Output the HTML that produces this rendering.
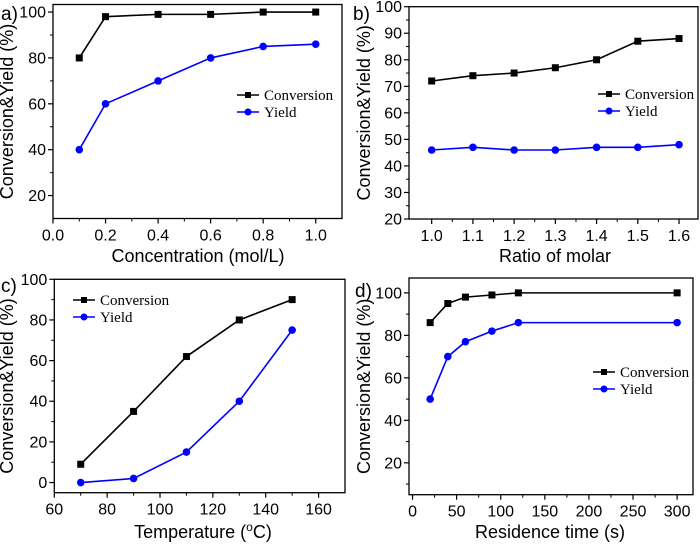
<!DOCTYPE html>
<html><head><meta charset="utf-8"><style>
body{margin:0;background:#fff}
svg{display:block}
text{font-family:"Liberation Sans",Arial,sans-serif;fill:#000}
.leg{font-family:"Liberation Serif",serif;font-size:15px}
</style></head><body>
<svg id="chart" width="700" height="544" viewBox="0 0 700 544" xmlns="http://www.w3.org/2000/svg"></svg>
<script>
// Panel a
const aX=[0.1,0.2,0.4,0.6,0.8,1.0];
const aConv=[80,98,99,99,100,100];
const aYield=[40,60,70,80,85,86];
const aXTicks=["0.0","0.2","0.4","0.6","0.8","1.0"];
const aYTicks=["20","40","60","80","100"];
// Panel b
const bX=[1.0,1.1,1.2,1.3,1.4,1.5,1.6];
const bConv=[72,74,75,77,80,87,88];
const bYield=[46,47,46,46,47,47,48];
const bXTicks=["1.0","1.1","1.2","1.3","1.4","1.5","1.6"];
const bYTicks=["20","30","40","50","60","70","80","90","100"];
// Panel c
const cX=[70,90,110,130,150];
const cConv=[9,35,62,80,90];
const cYield=[0,2,15,40,75];
const cXTicks=["60","80","100","120","140","160"];
const cYTicks=["0","20","40","60","80","100"];
// Panel d
const dX=[20,40,60,90,120,300];
const dConv=[86,95,98,99,100,100];
const dYield=[50,70,77,82,86,86];
const dXTicks=["0","50","100","150","200","250","300"];
const dYTicks=["20","40","60","80","100"];

const NS="http://www.w3.org/2000/svg";
const svg=document.getElementById('chart');
function mk(tag,attrs,parent){const e=document.createElementNS(NS,tag);for(const k in attrs)e.setAttribute(k,attrs[k]);(parent||svg).appendChild(e);return e;}

function panel(p){
  const g=mk('g',{});
  
  
  const sx=v=>p.L+(v-p.x0)/(p.x1-p.x0)*(p.R-p.L);
  const sy=v=>p.B-(v-p.y0)/(p.y1-p.y0)*(p.B-p.T);
  const box=mk('rect',{x:p.L,y:p.T,width:p.R-p.L,height:p.B-p.T,fill:'none',stroke:'#000','stroke-width':1.3},g);
  
  
  p.xt.forEach((t,i)=>{const v=parseFloat(t);const x=sx(v);
    mk('line',{x1:x,x2:x,y1:p.B,y2:p.B+5,stroke:'#000','stroke-width':1.2},g);
    const tx=mk('text',{x:x,y:p.B+22,'text-anchor':'middle','font-size':16},g);tx.textContent=t;
    
    
    if(i<p.xt.length-1){const xm=sx(v+p.xstep/2);mk('line',{x1:xm,x2:xm,y1:p.B,y2:p.B+3,stroke:'#000','stroke-width':1},g);}
  });
  p.yt.forEach((t,i)=>{const v=parseFloat(t);const y=sy(v);
    mk('line',{x1:p.L-5,x2:p.L,y1:y,y2:y,stroke:'#000','stroke-width':1.2},g);
    const tx=mk('text',{x:p.L-7,y:y+5.5,'text-anchor':'end','font-size':16},g);tx.textContent=t;
    
    
    const ym=sy(v-p.ystep/2);if(ym<p.B)mk('line',{x1:p.L-3,x2:p.L,y1:ym,y2:ym,stroke:'#000','stroke-width':1},g);
  });
  const xl=mk('text',{x:p.xlx,y:p.xly,'text-anchor':'middle','font-size':18},g);
  xl.innerHTML=p.xlabel;
  
  
  const yl=mk('text',{x:0,y:0,'text-anchor':'middle','font-size':18,transform:`translate(${p.ylx},${(p.T+p.B)/2}) rotate(-90)`},g);
  yl.textContent='Conversion&Yield (%)';
  
  
  const pl=mk('text',{x:p.lx,y:p.ly,'font-size':19},g);pl.textContent=p.id+')';
  
  
  const series=[{d:p.conv,c:'#000',sq:true,n:'Conversion'},{d:p.yld,c:'#0000ff',sq:false,n:'Yield'}];
  series.forEach((s,si)=>{
    const pts=p.x.map((xv,i)=>sx(xv)+','+sy(s.d[i])).join(' ');
    const ln=mk('polyline',{points:pts,fill:'none',stroke:s.c,'stroke-width':1.6},g);
    
    
    p.x.forEach((xv,i)=>{
      let m;
      if(s.sq)m=mk('rect',{x:sx(xv)-3.5,y:sy(s.d[i])-3.5,width:7,height:7,fill:s.c},g);
      else m=mk('circle',{cx:sx(xv),cy:sy(s.d[i]),r:3.8,fill:s.c},g);
      
      
    });
    const ly=p.legy+si*17;
    const lg=mk('g',{},g);
    
    
    mk('line',{x1:p.legx,x2:p.legx+22,y1:ly,y2:ly,stroke:s.c,'stroke-width':1.6},lg);
    if(s.sq)mk('rect',{x:p.legx+8,y:ly-3,width:6,height:6,fill:s.c},lg);
    else mk('circle',{cx:p.legx+11,cy:ly,r:3.5,fill:s.c},lg);
    const t=mk('text',{x:p.legx+27,y:ly+5,class:'leg'},lg);t.textContent=s.n;
  });
}
panel({id:'a',L:53,R:342,T:4.5,B:218.5,x0:0,x1:1.1,y0:10,y1:103.3,xstep:0.2,ystep:20,
  x:aX,conv:aConv,yld:aYield,xt:aXTicks,yt:aYTicks,xlabel:'Concentration (mol/L)',xlx:198,xly:262,ylx:13,lx:1,ly:20,legx:237,legy:95});
panel({id:'b',L:409,R:698,T:6.7,B:219,x0:0.945,x1:1.646,y0:20,y1:100,xstep:0.1,ystep:10,
  x:bX,conv:bConv,yld:bYield,xt:bXTicks,yt:bYTicks,xlabel:'Ratio of molar',xlx:555,xly:262,ylx:370,lx:353,ly:20,legx:598,legy:94});
panel({id:'c',L:54.3,R:345,T:279.3,B:492.7,x0:60,x1:170,y0:-5,y1:100,xstep:20,ystep:20,
  x:cX,conv:cConv,yld:cYield,xt:cXTicks,yt:cYTicks,xlabel:'Temperature (<tspan baseline-shift="super" font-size="12">o</tspan>C)',xlx:203,xly:538,ylx:13,lx:1,ly:292,legx:73,legy:300});
panel({id:'d',L:409,R:693,T:278,B:494.7,x0:-4,x1:318,y0:5,y1:107,xstep:50,ystep:20,
  x:dX,conv:dConv,yld:dYield,xt:dXTicks,yt:dYTicks,xlabel:'Residence time (s)',xlx:550,xly:538,ylx:370,lx:355,ly:297,legx:593,legy:372});
</script>
</body></html>
